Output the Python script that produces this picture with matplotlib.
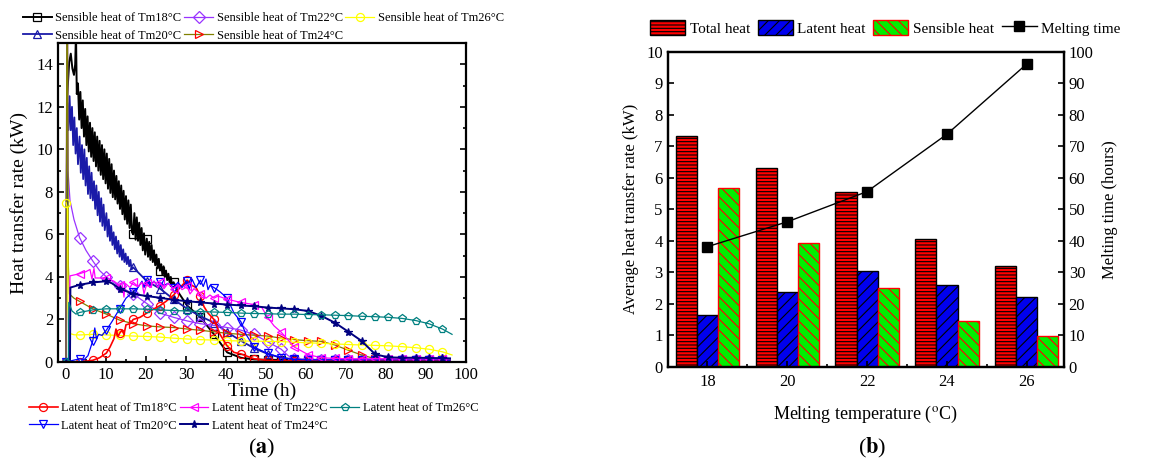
import matplotlib
matplotlib.use("Agg")
import matplotlib.pyplot as plt
from matplotlib.ticker import MultipleLocator

plt.rcParams['font.family'] = ['Liberation Serif', 'DejaVu Serif']
plt.rcParams['mathtext.fontset'] = 'stix'
plt.rcParams['hatch.linewidth'] = 0.8

# ---------------- data (a): heat transfer rate vs time ----------------
# marker grid (h)
GRID = [0, 3.4, 6.7, 10.1, 13.4, 16.8, 20.2, 23.5, 26.9, 30.3, 33.6, 37.0, 40.3,
        43.7, 47.0, 50.4, 53.8, 57.1, 60.5, 63.8, 67.2, 70.6, 73.9, 77.3, 80.6,
        84.0, 87.4, 90.7, 94.1]

SENS_18 = [(0, 0.0), (0.3, 12.5), (0.8, 14.1), (1.2, 14.5), (1.6, 13.8), (2.0, 13.5), (2.3, 14.0),
           (2.5, 15.5), (2.7, 12.6), (3.0, 13.1), (3.3, 11.4), (3.6, 12.7), (3.9, 11.0), (4.2, 12.3),
           (4.5, 10.6), (4.8, 11.9), (5.1, 10.2), (5.4, 11.55), (5.7, 9.9), (6.0, 11.25), (6.3, 9.65),
           (6.6, 11.0), (6.9, 9.45), (7.2, 10.8), (7.5, 9.2), (7.8, 10.6), (8.1, 9.0), (8.4, 10.4),
           (8.7, 8.8), (9.0, 10.2), (9.3, 8.6), (9.6, 10.0), (9.9, 8.4), (10.2, 9.8), (10.5, 8.15),
           (10.8, 9.55), (11.1, 7.95), (11.4, 9.3), (11.7, 7.75), (12.0, 9.0), (12.3, 7.65),
           (12.6, 8.75), (12.9, 7.45), (13.2, 8.5), (13.5, 7.2), (13.8, 8.3), (14.1, 6.95),
           (14.4, 8.05), (14.7, 6.7), (15.0, 7.8), (15.3, 6.5), (15.6, 7.6), (15.9, 6.3), (16.2, 7.4),
           (16.5, 6.1), (16.8, 6.0), (17.1, 7.0), (17.4, 5.75), (17.7, 6.8), (18.0, 5.7), (18.3, 6.55),
           (18.6, 5.5), (18.9, 6.3), (19.2, 5.25), (19.5, 6.05), (19.8, 5.05), (20.2, 5.8), (20.5, 4.95),
           (20.8, 5.65), (21.1, 4.8), (21.4, 5.5), (21.7, 4.7), (22.0, 5.25), (22.3, 4.55),
           (22.6, 5.05), (22.9, 4.4), (23.2, 4.85), (23.5, 4.3), (23.8, 4.6), (24.1, 4.1), (24.4, 4.5),
           (24.7, 4.0), (25.0, 4.3), (25.3, 3.85), (25.6, 4.15), (25.9, 3.75), (26.2, 4.0),
           (26.5, 3.65), (26.9, 3.75), (28.0, 3.3), (30.3, 2.65), (33.6, 2.1), (37.0, 1.3),
           (40.3, 0.45), (43.7, 0.2), (47.0, 0.12), (50.4, 0.1), (53.8, 0.1), (57.1, 0.1),
           (60.5, 0.1), (63.8, 0.1), (67.2, 0.1), (70.6, 0.1), (73.9, 0.1), (77.3, 0.1), (80.6, 0.1),
           (84.0, 0.1), (87.4, 0.1), (90.7, 0.1), (94.1, 0.1), (96.0, 0.1)]

SENS_20 = [(0, 0.0), (0.3, 12.2), (0.6, 10.9), (0.9, 12.5), (1.2, 10.9), (1.5, 12.0), (1.8, 10.2),
           (2.1, 11.5), (2.4, 9.8), (2.7, 11.0), (3.0, 9.3), (3.4, 10.6), (3.7, 8.9), (4.0, 10.2),
           (4.3, 8.6), (4.6, 10.0), (4.9, 8.3), (5.2, 9.6), (5.5, 7.9), (5.8, 9.2), (6.1, 7.7),
           (6.4, 8.9), (6.7, 7.6), (7.0, 8.5), (7.3, 7.2), (7.6, 8.3), (7.9, 6.9), (8.2, 8.0),
           (8.5, 6.6), (8.8, 7.7), (9.1, 6.4), (9.4, 7.4), (9.7, 6.2), (10.1, 7.0), (10.4, 5.9),
           (10.7, 6.7), (11.0, 5.7), (11.3, 6.4), (11.6, 5.5), (11.9, 6.1), (12.2, 5.3), (12.5, 5.9),
           (12.8, 5.1), (13.1, 5.7), (13.4, 4.95), (13.7, 5.5), (14.0, 4.8), (14.3, 5.3), (14.6, 4.7),
           (14.9, 5.1), (15.2, 4.6), (15.5, 4.95), (15.8, 4.5), (16.1, 4.8), (16.4, 4.35), (16.8, 4.45),
           (20.2, 3.8), (23.5, 3.45), (26.9, 2.95), (30.3, 2.5), (33.6, 2.15), (37.0, 1.85),
           (40.3, 1.4), (43.7, 1.0), (47.0, 0.65), (50.4, 0.38), (53.8, 0.2), (57.1, 0.13),
           (60.5, 0.1), (63.8, 0.1), (67.2, 0.1), (70.6, 0.1), (73.9, 0.1), (77.3, 0.1),
           (80.6, 0.1), (84.0, 0.1), (87.4, 0.1), (90.7, 0.1), (94.1, 0.1), (96.0, 0.1)]

SENS_22 = [(0, 0.0), (0.2, 15.5), (0.4, 15.5), (0.5, 9.0), (1.0, 7.6), (2.0, 6.7), (3.4, 5.85),
           (5.0, 5.25), (6.7, 4.75), (8.4, 4.3), (10.1, 4.0), (13.4, 3.55), (16.8, 3.2), (20.2, 2.75),
           (23.5, 2.3), (26.9, 2.1), (30.3, 1.93), (33.6, 1.8), (37.0, 1.72), (40.3, 1.62),
           (43.7, 1.5), (47.0, 1.3), (50.4, 0.95), (53.8, 0.6), (55.5, 0.3), (57.1, 0.15),
           (60.5, 0.1), (63.8, 0.1), (67.2, 0.1), (70.6, 0.1), (73.9, 0.1), (77.3, 0.1),
           (80.6, 0.1), (84.0, 0.1), (87.4, 0.1), (90.7, 0.1), (94.1, 0.1), (96.0, 0.08)]

SENS_24 = [(0, 0.0), (0.2, 15.5), (0.4, 15.5), (0.6, 4.5), (0.84, 3.2), (2.0, 3.0), (3.4, 2.85),
           (6.7, 2.5), (10.1, 2.25), (13.4, 1.97), (16.8, 1.8), (20.2, 1.7), (23.5, 1.65),
           (26.9, 1.62), (30.3, 1.55), (33.6, 1.49), (37.0, 1.42), (40.3, 1.35), (43.7, 1.3),
           (47.0, 1.26), (50.4, 1.22), (53.8, 1.12), (57.1, 1.05), (60.5, 1.0), (63.8, 0.97),
           (67.2, 0.8), (70.6, 0.55), (73.9, 0.33), (77.3, 0.15), (80.6, 0.1), (84.0, 0.1),
           (87.4, 0.1), (90.7, 0.1), (94.1, 0.1), (96.0, 0.08)]

SENS_26 = [(0, 7.5), (0.4, 7.2), (0.5, 2.5), (0.8, 1.35), (2.0, 1.28), (3.4, 1.27), (6.7, 1.3),
           (10.1, 1.27), (13.4, 1.25), (16.8, 1.22), (20.2, 1.2), (23.5, 1.17), (26.9, 1.12),
           (30.3, 1.08), (33.6, 1.05), (37.0, 1.03), (40.3, 1.0), (43.7, 0.99), (47.0, 0.98),
           (50.4, 0.97), (53.8, 0.96), (57.1, 0.93), (60.5, 0.9), (63.8, 0.88), (67.2, 0.85),
           (70.6, 0.82), (73.9, 0.8), (77.3, 0.78), (80.6, 0.76), (84.0, 0.72), (87.4, 0.67),
           (90.7, 0.6), (94.1, 0.48), (96.5, 0.33)]

LAT_18 = [(0, 0.0), (3.4, 0.0), (6.7, 0.08), (8.4, 0.2), (10.1, 0.42), (11.0, 0.7), (12.0, 1.1),
          (12.5, 1.55), (13.0, 1.2), (13.4, 1.35), (14.0, 1.5), (14.5, 1.3), (15.0, 1.75),
          (16.0, 1.8), (16.8, 2.0), (18.5, 2.1), (20.2, 2.3), (22.0, 2.5), (23.5, 2.65),
          (25.0, 2.85), (26.9, 3.15), (28.5, 3.5), (30.3, 3.85), (31.5, 3.6), (32.5, 3.5),
          (33.6, 3.1), (34.5, 2.6), (35.5, 2.3), (37.0, 2.0), (38.5, 1.3), (40.3, 0.75),
          (42.0, 0.45), (43.7, 0.38), (47.0, 0.15), (50.4, 0.08), (53.8, 0.05), (57.1, 0.05),
          (60.5, 0.05), (63.8, 0.05), (67.2, 0.05), (70.6, 0.05), (73.9, 0.05), (77.3, 0.05),
          (80.6, 0.05), (84.0, 0.05), (87.4, 0.05), (90.7, 0.05), (94.1, 0.05), (96.0, 0.05)]

LAT_20 = [(0, 0.0), (3.4, 0.15), (4.5, 0.1), (5.5, 0.3), (6.7, 1.0), (7.2, 1.6), (7.6, 1.1),
          (8.2, 1.3), (9.0, 1.25), (10.1, 1.5), (11.5, 1.9), (13.4, 2.5), (15.0, 3.0),
          (16.8, 3.3), (18.0, 3.5), (19.0, 3.8), (19.5, 3.5), (20.2, 3.85), (21.0, 3.6),
          (22.0, 3.8), (23.0, 3.55), (23.5, 3.75), (24.5, 3.6), (25.5, 3.7), (26.9, 3.5),
          (28.0, 3.75), (29.0, 3.5), (30.3, 3.8), (30.8, 3.4), (31.5, 3.9), (32.5, 3.5),
          (33.6, 3.85), (34.3, 3.55), (35.0, 3.9), (35.5, 3.4), (36.0, 3.6), (37.0, 3.5),
          (38.5, 3.3), (40.3, 3.0), (42.0, 2.3), (43.7, 1.9), (45.0, 1.3), (47.0, 0.7),
          (50.4, 0.4), (53.8, 0.2), (57.1, 0.12), (60.5, 0.1), (63.8, 0.1), (67.2, 0.1),
          (70.6, 0.1), (73.9, 0.1), (77.3, 0.1), (80.6, 0.1), (84.0, 0.1), (87.4, 0.1),
          (90.7, 0.1), (94.1, 0.1), (96.0, 0.08)]

LAT_22 = [(0, 0.0), (0.8, 0.0), (1.0, 4.05), (3.4, 4.15), (5.0, 4.25), (6.0, 4.35), (6.5, 3.9),
          (7.0, 4.4), (7.3, 3.95), (10.1, 3.95), (12.0, 3.8), (13.4, 3.6), (14.0, 3.7),
          (14.5, 3.05), (14.8, 3.7), (16.0, 3.5), (16.8, 3.75), (18.0, 3.55), (19.0, 3.75),
          (19.5, 3.2), (20.2, 3.7), (21.0, 3.5), (22.0, 3.8), (23.0, 3.5), (23.5, 3.75),
          (24.5, 3.45), (25.5, 3.7), (26.9, 3.45), (28.0, 3.65), (29.0, 3.4), (30.3, 3.55),
          (31.0, 3.2), (32.0, 3.45), (33.6, 3.2), (35.0, 3.0), (36.0, 3.15), (37.0, 3.0),
          (38.0, 3.1), (40.3, 2.95), (43.7, 2.8), (47.0, 2.7), (49.0, 2.55), (50.4, 2.1),
          (52.0, 1.7), (53.8, 1.4), (57.1, 0.7), (60.5, 0.35), (63.8, 0.2), (67.2, 0.17),
          (70.6, 0.15), (73.9, 0.15), (77.3, 0.15), (80.6, 0.15), (84.0, 0.15), (87.4, 0.15),
          (90.7, 0.15), (94.1, 0.15), (96.0, 0.15)]

LAT_24 = [(0, 0.0), (1.0, 0.0), (1.1, 3.5), (2.0, 3.55), (3.4, 3.63), (6.7, 3.74), (10.1, 3.8),
          (11.5, 3.7), (13.4, 3.45), (16.8, 3.2), (20.2, 3.1), (23.5, 3.02), (26.9, 2.92),
          (30.3, 2.86), (33.6, 2.8), (37.0, 2.75), (40.3, 2.7), (43.7, 2.66), (47.0, 2.62),
          (50.4, 2.56), (53.8, 2.52), (57.1, 2.48), (60.5, 2.4), (63.8, 2.17), (67.2, 1.85),
          (70.6, 1.42), (73.9, 0.99), (77.3, 0.36), (80.6, 0.22), (84.0, 0.2), (87.4, 0.2),
          (90.7, 0.19), (94.1, 0.18), (96.0, 0.17)]

LAT_26 = [(0, 0.0), (0.6, 0.0), (0.7, 2.8), (1.5, 2.4), (2.5, 2.25), (3.4, 2.33), (6.7, 2.45),
          (10.1, 2.5), (13.4, 2.5), (16.8, 2.5), (20.2, 2.48), (23.5, 2.45), (26.9, 2.42),
          (30.3, 2.4), (33.6, 2.37), (37.0, 2.35), (40.3, 2.33), (43.7, 2.3), (47.0, 2.28),
          (50.4, 2.27), (53.8, 2.25), (57.1, 2.25), (60.5, 2.23), (63.8, 2.22), (67.2, 2.2),
          (70.6, 2.18), (73.9, 2.15), (77.3, 2.13), (80.6, 2.1), (84.0, 2.05), (87.4, 1.95),
          (90.7, 1.8), (94.1, 1.55), (96.5, 1.3)]

# ---------------- data (b): averages per melting temperature ----------------
TEMPS = [18, 20, 22, 24, 26]
TOTAL_HEAT = [7.32, 6.30, 5.56, 4.05, 3.21]
LATENT_HEAT = [1.64, 2.36, 3.04, 2.60, 2.22]
SENSIBLE_HEAT = [5.68, 3.94, 2.51, 1.45, 0.97]
MELT_TIME = [38.1, 46.0, 55.6, 73.8, 96.1]


def draw_series(ax, pts, color, marker, label, edge=None, face='none', mark_from=0.0, lw=0.9):
    t = [p[0] for p in pts]
    q = [p[1] for p in pts]
    idx = [i for i, v in enumerate(t)
           if v >= mark_from and any(abs(v - g) < 0.01 for g in GRID)]
    line, = ax.plot(t, q, color=color, lw=lw, marker=marker, markevery=idx, ms=5.8,
                    mfc=face, mec=edge or color, mew=0.9, label=label)
    return line


fig = plt.figure(figsize=(11.55, 4.66), dpi=100)

# ---------------- panel (a) ----------------
ax = fig.add_axes([0.0502, 0.2232, 0.3533, 0.6845])

sens = [
    draw_series(ax, SENS_18, 'black', 's', 'Sensible heat of Tm18°C', mark_from=16.0, lw=1.4),
    draw_series(ax, SENS_20, '#1a1aa8', '^', 'Sensible heat of Tm20°C', mark_from=16.0, lw=1.3),
    draw_series(ax, SENS_22, '#9933ff', 'D', 'Sensible heat of Tm22°C', mark_from=3.0),
    draw_series(ax, SENS_24, '#808000', '>', 'Sensible heat of Tm24°C', edge='red', mark_from=3.0),
    draw_series(ax, SENS_26, '#ffff00', 'o', 'Sensible heat of Tm26°C'),
]
lat = [
    draw_series(ax, LAT_18, 'red', 'o', 'Latent heat of Tm18°C', lw=1.2),
    draw_series(ax, LAT_20, 'blue', 'v', 'Latent heat of Tm20°C'),
    draw_series(ax, LAT_22, '#ff00ff', '<', 'Latent heat of Tm22°C', mark_from=3.0),
    draw_series(ax, LAT_24, '#000080', '*', 'Latent heat of Tm24°C', face='#000080', lw=1.4),
    draw_series(ax, LAT_26, '#008080', 'p', 'Latent heat of Tm26°C'),
]

ax.set_xlim(-2, 100)
ax.set_ylim(0, 15)
ax.xaxis.set_major_locator(MultipleLocator(10))
ax.xaxis.set_minor_locator(MultipleLocator(5))
ax.yaxis.set_major_locator(MultipleLocator(2))
ax.yaxis.set_minor_locator(MultipleLocator(1))
ax.tick_params(which='both', direction='in', right=True, top=False, width=1.2, labelsize=12)
ax.tick_params(which='major', length=4)
ax.tick_params(which='minor', length=2.5)
for s in ax.spines.values():
    s.set_linewidth(1.6)
ax.set_xlabel('Time (h)', fontsize=14, labelpad=0)
ax.set_ylabel('Heat transfer rate (kW)', fontsize=14, labelpad=6)

leg_kw = dict(ncol=3, frameon=False, fontsize=9, borderpad=0, borderaxespad=0,
              handlelength=2.3, handletextpad=0.3, columnspacing=0.2, labelspacing=0.45)
fig.legend(handles=sens, loc='upper left', bbox_to_anchor=(23 / 1155, 1 - 12 / 466), **leg_kw)
fig.legend(handles=lat, loc='upper left', bbox_to_anchor=(29 / 1155, 1 - 402 / 466), **leg_kw)

fig.text(0.2268, 0.0386, r'($\mathbf{a}$)', ha='center', va='center', fontsize=16)

# ---------------- panel (b) ----------------
bx = fig.add_axes([0.578, 0.2131, 0.3431, 0.6760])
w = 0.53
b1 = bx.bar([x - w for x in TEMPS], TOTAL_HEAT, w, color='#ff0000', edgecolor='black',
            hatch='-----', lw=1.0, label='Total heat')
b2 = bx.bar(TEMPS, LATENT_HEAT, w, color='#0000ee', edgecolor='black',
            hatch='///', lw=1.0, label='Latent heat')
b3 = bx.bar([x + w for x in TEMPS], SENSIBLE_HEAT, w, color='#00ee00', edgecolor='red',
            hatch='\\\\\\', lw=1.0, label='Sensible heat')
bx.set_xlim(17.0, 26.93)
bx.set_ylim(0, 10)
bx.set_xticks(TEMPS)
bx.xaxis.set_minor_locator(MultipleLocator(1))
bx.yaxis.set_major_locator(MultipleLocator(1))
bx.tick_params(which='both', direction='in', top=False, width=1.2, labelsize=12)
bx.tick_params(which='major', length=4)
bx.tick_params(which='minor', length=2.5)
bx.tick_params(axis='x', pad=5)
for s in bx.spines.values():
    s.set_linewidth(1.6)
bx.set_xlabel(r'Melting temperature ($^{\rm o}$C)', fontsize=13, labelpad=10)
bx.set_ylabel('Average heat transfer rate (kW)', fontsize=12, labelpad=5)

bx2 = bx.twinx()
ln, = bx2.plot(TEMPS, MELT_TIME, color='black', lw=1.0, marker='s', ms=7, label='Melting time')
bx2.set_ylim(0, 100)
bx2.yaxis.set_major_locator(MultipleLocator(10))
bx2.tick_params(which='both', direction='in', width=1.2, labelsize=12)
bx2.tick_params(which='major', length=4)
bx2.set_ylabel('Melting time (hours)', fontsize=12, labelpad=6)
for s in bx2.spines.values():
    s.set_linewidth(1.6)

fig.legend(handles=[b1, b2, b3, ln], loc='upper left', bbox_to_anchor=(650 / 1155, 1 - 20 / 466),
           ncol=4, frameon=False, fontsize=11, borderpad=0, borderaxespad=0,
           handlelength=2.3, handleheight=1.15, handletextpad=0.3, columnspacing=0.5)

fig.text(0.755, 0.0386, r'($\mathbf{b}$)', ha='center', va='center', fontsize=16)

fig.savefig('out.png', dpi=100)
